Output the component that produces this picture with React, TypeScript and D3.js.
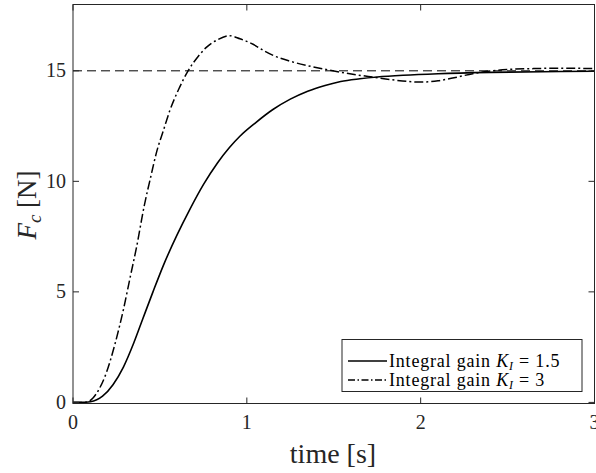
import React from "react";
import * as d3 from "d3";

const xTicks = [0, 1, 2, 3];
const yTicks = [0, 5, 10, 15];
const refValue = 15;

const tLow = [0, 0.05, 0.1, 0.17, 0.23, 0.29, 0.35, 0.4, 0.46, 0.52, 0.6, 0.67, 0.75, 0.83, 0.9, 0.96, 1.05, 1.15, 1.25, 1.35, 1.45, 1.54, 1.65, 1.75, 1.9, 2.1, 2.4, 2.7, 3.0];
const fLow = [0, 0, 0.03, 0.28, 0.8, 1.6, 2.7, 3.75, 5.0, 6.2, 7.6, 8.7, 9.85, 10.82, 11.53, 12.04, 12.65, 13.25, 13.72, 14.08, 14.34, 14.52, 14.64, 14.72, 14.8, 14.87, 14.93, 14.96, 14.98];

const tHigh = [0, 0.05, 0.08, 0.115, 0.15, 0.19, 0.24, 0.29, 0.33, 0.365, 0.41, 0.45, 0.48, 0.52, 0.557, 0.61, 0.662, 0.72, 0.767, 0.83, 0.9, 0.96, 1.036, 1.1, 1.153, 1.25, 1.345, 1.45, 1.537, 1.63, 1.73, 1.85, 2.0, 2.1, 2.2, 2.3, 2.4, 2.5, 2.65, 2.8, 3.0];
const fHigh = [0, 0, 0.02, 0.2, 0.6, 1.3, 2.6, 4.2, 5.7, 7.0, 8.9, 10.3, 11.3, 12.3, 13.2, 14.2, 15.0, 15.65, 16.06, 16.4, 16.59, 16.45, 16.2, 15.9, 15.69, 15.43, 15.24, 15.07, 14.94, 14.82, 14.71, 14.58, 14.49, 14.55, 14.7, 14.87, 14.99, 15.06, 15.1, 15.12, 15.1];

const legendLabels = ["Integral gain ", "K", "I", " = 1.5", " = 3"];

const FONT = "'Liberation Serif', serif";
const AX = "#262626";

export default function App() {
  const x = d3.scaleLinear().domain([0, 3]).range([73, 594.5]);
  const y = d3.scaleLinear().domain([-0.05, 18]).range([403.5, 4.5]);
  const line = d3
    .line<[number, number]>()
    .x((d) => x(d[0]))
    .y((d) => y(d[1]))
    .curve(d3.curveMonotoneX);
  const low: [number, number][] = tLow.map((t, i) => [t, fLow[i]]);
  const high: [number, number][] = tHigh.map((t, i) => [t, fHigh[i]]);
  const [x0, x1] = x.range();
  const [y0, y1] = y.range();
  const tick = 6;

  const legendRow = (suffix: string, yy: number, dash: string | undefined) => (
    <g>
      <line x1={348} x2={387} y1={yy - 5.5} y2={yy - 5.5} stroke="#000" strokeWidth={1.5} strokeDasharray={dash} />
      <text x={389} y={yy} style={{ fontFamily: FONT, fontSize: 18, letterSpacing: 0.8 }} fill="#000">
        {legendLabels[0]}
        <tspan fontStyle="italic">{legendLabels[1]}</tspan>
        <tspan fontStyle="italic" style={{ fontSize: 12 }} dy={3}>{legendLabels[2]}</tspan>
        <tspan dy={-3}>{suffix}</tspan>
      </text>
    </g>
  );

  return (
    <svg width={596} height={473} style={{ position: "absolute", left: 0, top: 0, background: "#fff" }}>
      <rect x={0} y={0} width={596} height={473} fill="#fff" />
      <defs>
        <clipPath id="plotclip">
          <rect x={x0} y={y1} width={x1 - x0} height={y0 - y1} />
        </clipPath>
      </defs>
      <g clipPath="url(#plotclip)">
        <line x1={x0} x2={x1} y1={y(refValue)} y2={y(refValue)} stroke="#000" strokeWidth={1} strokeDasharray="9,5" />
        <path d={line(high) || ""} fill="none" stroke="#000" strokeWidth={1.5} strokeDasharray="9,3,2,3" />
        <path d={line(low) || ""} fill="none" stroke="#000" strokeWidth={1.6} />
      </g>
      <rect x={x0} y={y1} width={x1 - x0} height={y0 - y1} fill="none" stroke={AX} strokeWidth={1} />
      {xTicks.map((v) => (
        <g key={"x" + v}>
          <line x1={x(v)} x2={x(v)} y1={y0} y2={y0 - tick} stroke={AX} />
          <line x1={x(v)} x2={x(v)} y1={y1} y2={y1 + tick} stroke={AX} />
          <text x={x(v)} y={429} textAnchor="middle" style={{ fontFamily: FONT, fontSize: 20 }} fill={AX}>
            {v}
          </text>
        </g>
      ))}
      {yTicks.map((v) => (
        <g key={"y" + v}>
          <line x1={x0} x2={x0 + tick} y1={y(v)} y2={y(v)} stroke={AX} />
          <line x1={x1} x2={x1 - tick} y1={y(v)} y2={y(v)} stroke={AX} />
          <text x={66} y={y(v) + 6.5} textAnchor="end" style={{ fontFamily: FONT, fontSize: 20 }} fill={AX}>
            {v}
          </text>
        </g>
      ))}
      <text x={333} y={463} textAnchor="middle" style={{ fontFamily: FONT, fontSize: 28 }} fill={AX}>
        time [s]
      </text>
      <text transform="translate(36,205) rotate(-90)" textAnchor="middle" style={{ fontFamily: FONT, fontSize: 27 }} fill={AX}>
        <tspan fontStyle="italic">F</tspan>
        <tspan fontStyle="italic" style={{ fontSize: 19 }} dy={5}>c</tspan>
        <tspan dy={-5}> [N]</tspan>
      </text>
      <rect x={342} y={339.5} width={240} height={52} fill="#fff" stroke={AX} strokeWidth={1} />
      {legendRow(legendLabels[3], 366.5, undefined)}
      {legendRow(legendLabels[4], 385.5, "7,2.5,1.5,2.5")}
    </svg>
  );
}
